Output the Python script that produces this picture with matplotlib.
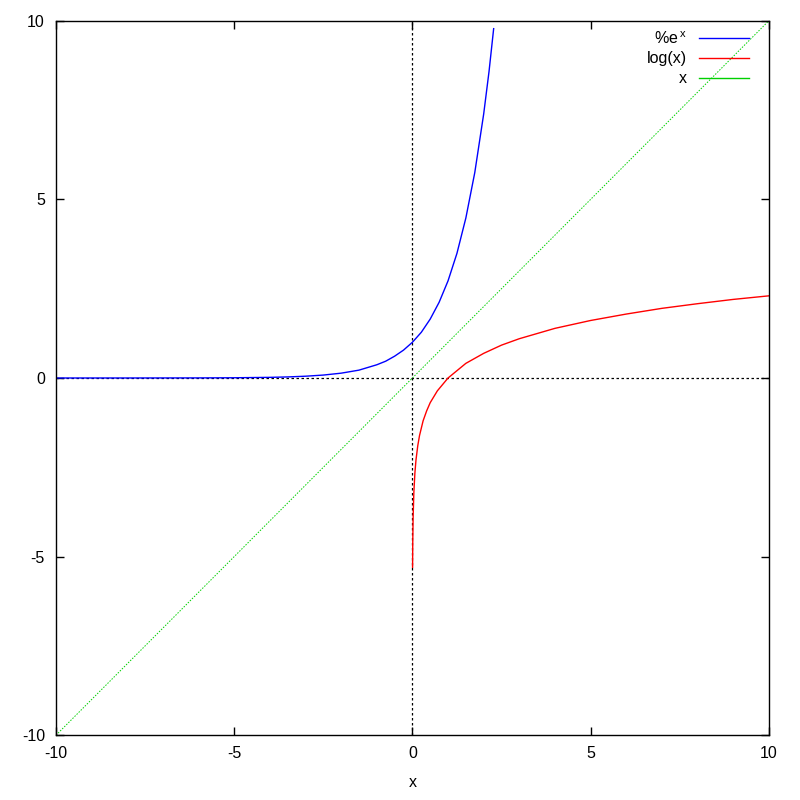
import numpy as np
import matplotlib.pyplot as plt

plt.rcParams['font.family'] = ['Liberation Sans', 'DejaVu Sans']
plt.rcParams['mathtext.default'] = 'regular'

# %e^x
exp_x = [-10, -8, -6, -5, -4, -3.5, -3, -2.5, -2, -1.5, -1, -0.75, -0.5, -0.25,
         0, 0.25, 0.5, 0.75, 1, 1.25, 1.5, 1.75, 2, 2.15, 2.28]
exp_y = [0.00005, 0.0003, 0.0025, 0.0067, 0.018, 0.03, 0.05, 0.082, 0.135, 0.22,
         0.37, 0.47, 0.61, 0.78, 1.0, 1.28, 1.65, 2.12, 2.72, 3.49, 4.48, 5.75,
         7.39, 8.58, 9.78]

# log(x)
log_x = [0.005, 0.01, 0.02, 0.04, 0.07, 0.1, 0.15, 0.2, 0.3, 0.4, 0.5, 0.7, 1,
         1.5, 2, 2.5, 3, 4, 5, 6, 7, 8, 9, 10]
log_y = [-5.3, -4.6, -3.91, -3.22, -2.66, -2.30, -1.90, -1.61, -1.20, -0.92,
         -0.69, -0.36, 0, 0.41, 0.69, 0.92, 1.10, 1.39, 1.61, 1.79, 1.95, 2.08,
         2.20, 2.30]

# x
lin_x = [-10, 10]
lin_y = [-10, 10]

ticks = [-10, -5, 0, 5, 10]

fig = plt.figure(figsize=(8, 8), dpi=100)
ax = fig.add_axes([0.07, 0.081, 0.891, 0.893])

ax.axhline(0, color='black', lw=0.9, ls=(0, (2, 2)), zorder=1)
ax.axvline(0, color='black', lw=0.9, ls=(0, (2, 2)), zorder=1)

ax.plot(exp_x, exp_y, color='blue', lw=1, label='%e$^{\\,x}$')
ax.plot(log_x, log_y, color='red', lw=1, label='log(x)')
ax.plot(lin_x, lin_y, color='#00d000', lw=0.7, ls=(0, (1.5, 1.5)), label='x')

ax.set_xlim(-10, 10)
ax.set_ylim(-10, 10)
ax.set_xticks(ticks)
ax.set_yticks(ticks)
ax.set_xticklabels([str(t) for t in ticks])
ax.set_yticklabels([str(t) for t in ticks])
ax.tick_params(direction='in', length=6, width=1, top=True, right=True,
               labelsize=11.5, pad=8)
for s in ax.spines.values():
    s.set_linewidth(1)
ax.set_xlabel('x', fontsize=11.5, labelpad=10)

leg = ax.legend(loc='upper right', bbox_to_anchor=(0.972, 0.987), frameon=False,
                fontsize=11.5, markerfirst=False, handlelength=3.1,
                handletextpad=0.8, labelspacing=0.3, borderaxespad=0,
                borderpad=0)
for h in leg.get_lines():
    h.set_linestyle('-')
    h.set_linewidth(1)

fig.savefig('out.png')
